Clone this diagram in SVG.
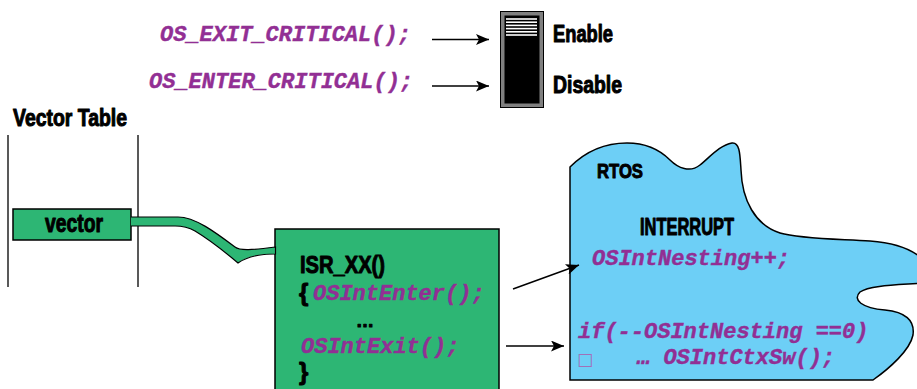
<svg xmlns="http://www.w3.org/2000/svg" width="917" height="389" viewBox="0 0 917 389">
  <defs>
    <style>
      .code { font-family: "Liberation Mono", "DejaVu Sans Mono", monospace; font-weight: bold; font-style: italic; font-size: 22px; fill: #922f94; stroke: #922f94; stroke-width: 0.4; }
      .head { font-family: "Liberation Sans", Arial, sans-serif; font-weight: bold; fill: #000; stroke: #000; stroke-width: 1; stroke-linejoin: round; }
      .wire { stroke: #000; stroke-width: 1.5; fill: none; }
      .green { fill: #2db674; stroke: #000; stroke-width: 1.5; }
    </style>
    <marker id="ah" viewBox="0 0 13 11" refX="13" refY="5.5" markerWidth="13" markerHeight="11" orient="auto" markerUnits="userSpaceOnUse">
      <path d="M0,0 L13,5.5 L0,11 L3,5.5 Z" fill="#000"/>
    </marker>
  </defs>

  <rect width="917" height="389" fill="#fff"/>

  <!-- critical section macros -->
  <g id="macros">
    <text class="code" x="160" y="41">OS_EXIT_CRITICAL();</text>
    <text class="code" x="149" y="88">OS_ENTER_CRITICAL();</text>
  </g>

  <!-- interrupt enable switch -->
  <g id="switch">
    <rect x="500.5" y="11.5" width="43" height="96" fill="#808080" stroke="#000" stroke-width="1"/>
    <rect x="504.5" y="15.5" width="35" height="88" fill="#000"/>
    <g stroke="#fff" stroke-width="1.6">
      <line x1="506" y1="19" x2="537" y2="19"/>
      <line x1="506" y1="22.2" x2="537" y2="22.2"/>
      <line x1="506" y1="25.4" x2="537" y2="25.4"/>
      <line x1="506" y1="28.6" x2="537" y2="28.6"/>
      <line x1="506" y1="31.8" x2="537" y2="31.8"/>
      <line x1="506" y1="35" x2="537" y2="35"/>
    </g>
    <text class="head" x="553" y="42" font-size="23" textLength="60" lengthAdjust="spacingAndGlyphs">Enable</text>
    <text class="head" x="553" y="93" font-size="23" textLength="69" lengthAdjust="spacingAndGlyphs">Disable</text>
  </g>

  <!-- vector table -->
  <g id="vector-table">
    <text class="head" x="13" y="126" font-size="23" textLength="114" lengthAdjust="spacingAndGlyphs">Vector Table</text>
    <line x1="8" y1="135" x2="8" y2="287" stroke="#222" stroke-width="1.5"/>
    <line x1="138" y1="135" x2="138" y2="287" stroke="#222" stroke-width="1.5"/>
  </g>

  <!-- vector entry -->
  <g id="vector">
    <rect class="green" x="13" y="209" width="118" height="31"/>
    <text class="head" x="45" y="232" font-size="25" textLength="58" lengthAdjust="spacingAndGlyphs">vector</text>
  </g>

  <!-- interrupt service routine -->
  <g id="isr">
    <rect class="green" x="275" y="229" width="224" height="175"/>
    <text class="head" x="300" y="273" font-size="24" textLength="85" lengthAdjust="spacingAndGlyphs">ISR_XX()</text>
    <text class="head" x="299" y="301" font-size="24">{</text>
    <text class="code" x="313" y="300">OSIntEnter();</text>
    <text class="head" x="356" y="327" font-size="18">…</text>
    <text class="code" x="301" y="353">OSIntExit();</text>
    <text class="head" x="299" y="380" font-size="24">}</text>
  </g>

  <!-- RTOS interrupt handling -->
  <g id="rtos">
    <path d="M570,380 L570,167 C585,152 605,143 627,143 C645,143 660,150 670,160 C678,168 690,173 700,165 C710,157 720,145 732,143 C740,142 740,155 741,170 C742,200 755,225 780,233 C800,239 840,239 870,241 C895,243 915,250 925,262 L925,283 C900,285 870,285 860,292 C852,300 862,308 885,310 C905,312 915,320 913,335 C910,350 890,368 873,380 Z" fill="#6dcff6" stroke="#000" stroke-width="1.5"/>
    <text class="head" x="597" y="178" font-size="21" textLength="46" lengthAdjust="spacingAndGlyphs">RTOS</text>
    <text class="head" x="640" y="235" font-size="23" textLength="94" lengthAdjust="spacingAndGlyphs">INTERRUPT</text>
    <text class="code" x="592" y="265">OSIntNesting++;</text>
    <text class="code" x="578" y="338">if(--OSIntNesting ==0)</text>
    <text x="577" y="365" font-family="'DejaVu Sans', sans-serif" font-size="17" fill="#a070b8">□</text>
    <text class="code" x="637" y="364">… OSIntCtxSw();</text>
  </g>

  <!-- connectors -->
  <g id="connectors">
    <path d="M131,217 L178,217 C195,217 215,232 235,247 C240,251 252,250 275.5,247 L275.5,254 C260,254 248,256 238,263 C225,252 210,240 195,231 C188,227 182,226 175,226 L131,226" fill="#2db674" stroke="#000" stroke-width="1.2"/>
    <line class="wire" x1="432" y1="39.5" x2="489" y2="39.5" marker-end="url(#ah)"/>
    <line class="wire" x1="432" y1="86" x2="489" y2="86" marker-end="url(#ah)"/>
    <line class="wire" x1="513" y1="289" x2="579" y2="265" marker-end="url(#ah)"/>
    <line class="wire" x1="506" y1="346" x2="564" y2="346" marker-end="url(#ah)"/>
  </g>
</svg>
